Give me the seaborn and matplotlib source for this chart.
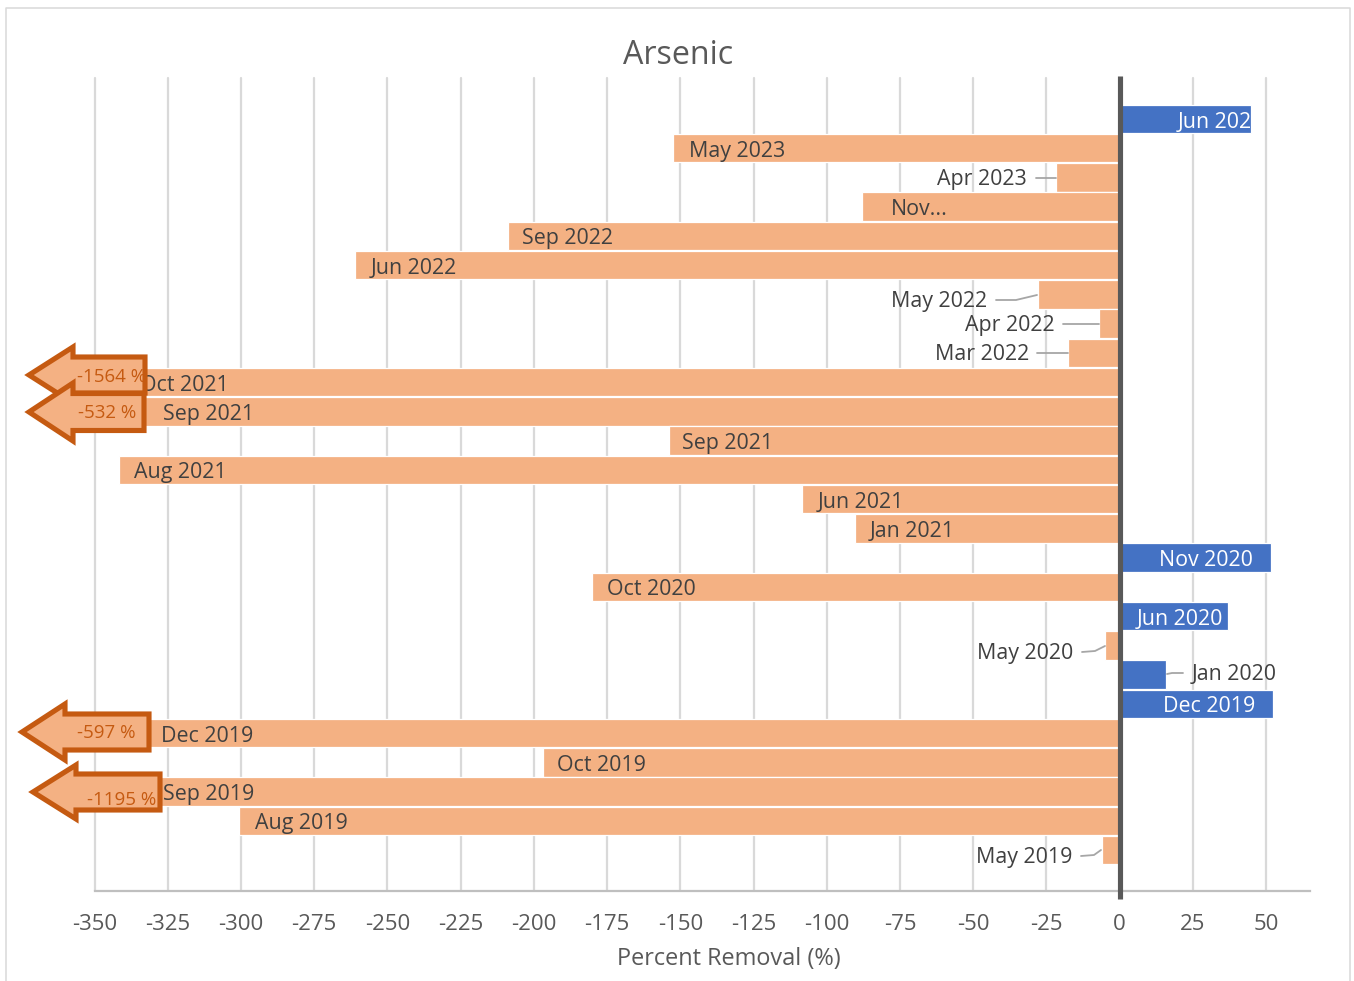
import matplotlib
matplotlib.use("Agg")
import matplotlib.pyplot as plt
import seaborn as sns
import pandas as pd
from matplotlib.patches import Polygon, Rectangle
from matplotlib.transforms import Affine2D

months = ["Jun 2023", "May 2023", "Apr 2023", "Nov...", "Sep 2022", "Jun 2022", "May 2022",
          "Apr 2022", "Mar 2022", "Oct 2021", "Sep 2021", "Sep 2021", "Aug 2021", "Jun 2021",
          "Jan 2021", "Nov 2020", "Oct 2020", "Jun 2020", "May 2020", "Jan 2020", "Dec 2019",
          "Dec 2019", "Oct 2019", "Sep 2019", "Aug 2019", "May 2019"]
removal = [44.9, -152.4, -21.7, -88, -208.7, -261, -28, -7, -17.6, -1564, -532, -154, -341.5,
           -108.4, -90.3, 51.7, -180, 37, -5, 16, 52.4, -597, -196.8, -1195, -300.5, -6]
ticks = list(range(-350, 51, 25))

WIDTH, HEIGHT = 1354, 981
ORANGE, BLUE, BURNT = "#F4B183", "#4472C4", "#C55A11"
DARK, MID, GRID = "#404040", "#595959", "#D9D9D9"
FONT = "Open Sans"
LABEL_SIZE = 15.4
TEXT_DROP = 3  # pixels, settles the labels on the bar centres

sns.set_theme(style="white")
plt.rcParams["font.family"] = [FONT, "DejaVu Sans"]

fig = plt.figure(figsize=(WIDTH / 100, HEIGHT / 100), dpi=100)
ax = fig.add_axes([94.5 / WIDTH, 1 - 891 / HEIGHT, (1310 - 94.5) / WIDTH, (891 - 78) / HEIGHT])

# Page-pixel coordinates for annotation shapes and the chart frame
page = Affine2D().scale(1, -1).translate(0, HEIGHT)

df = pd.DataFrame({"row": range(len(months)), "month": months, "removal": removal})
df["direction"] = ["up" if v > 0 else "down" for v in removal]
sns.barplot(data=df, x="removal", y="row", hue="direction", orient="y", native_scale=True,
            palette={"up": BLUE, "down": ORANGE}, dodge=False, width=0.97, legend=False,
            edgecolor="white", linewidth=0.9, saturation=1, ax=ax, zorder=2)

ax.set_xlim(-350, 65)
ax.set_ylim(26.4, -1.4)
ax.set_xlabel("")
ax.set_ylabel("")
ax.set_yticks([])
ax.set_xticks(ticks)
ax.set_xticklabels([str(t) for t in ticks], fontsize=16, color=MID)
ax.tick_params(axis="x", length=0, pad=16.5)
ax.set_axisbelow(True)
ax.grid(axis="x", color=GRID, lw=1.6, clip_on=False)
ax.grid(axis="y", visible=False)
for side in ("top", "left", "right"):
    ax.spines[side].set_visible(False)
ax.spines["bottom"].set_color("#BFBFBF")
ax.spines["bottom"].set_linewidth(1.6)

# Heavy zero baseline, running just past the plot area
ax.axvline(0, ymin=-0.01, ymax=1.003, color=MID, lw=3.7, clip_on=False, zorder=4,
           solid_capstyle="butt")

fig.text(678 / WIDTH, 1 - 55 / HEIGHT, "Arsenic", ha="center", va="center", fontsize=23.2, color=MID)
fig.text(729 / WIDTH, 1 - 959 / HEIGHT, "Percent Removal (%)", ha="center", va="center",
         fontsize=16.9, color=MID)

# Labels inside the bars: row -> page x of the label's anchor
inside_left = {1: 689, 3: 891, 4: 522, 5: 371, 9: 140, 10: 163, 11: 682, 12: 134, 13: 818,
               14: 870, 16: 607, 21: 161, 22: 557, 23: 163, 24: 255}
inside_right = {15: 1253, 17: 1223, 20: 1255}
for row, x in inside_left.items():
    ax.text(x, 119 + 29.24 * row + TEXT_DROP, months[row], transform=page, ha="left", va="center",
            fontsize=LABEL_SIZE, color=DARK, zorder=5)
for row, x in inside_right.items():
    ax.text(x, 119 + 29.24 * row + TEXT_DROP, months[row], transform=page, ha="right", va="center",
            fontsize=LABEL_SIZE, color="white", zorder=5)

# The newest label runs past the end of its bar and is cut off there
top_label = ax.text(1178, 119 + TEXT_DROP, months[0], transform=page, ha="left", va="center",
                    fontsize=LABEL_SIZE, color="white", zorder=5)
top_label.set_clip_path(Rectangle((1122, 105), 128, 28, transform=page))

# Labels outside short bars, tied back with thin leader lines
outside = [
    (2, 1027, 177, [(1036, 178), (1056, 178)]),
    (6, 987, 299, [(996, 300), (1016, 300), (1037, 295)]),
    (7, 1055, 323, [(1063, 324), (1099, 324)]),
    (8, 1029, 352, [(1037, 353), (1068, 353)]),
    (18, 1073, 650, [(1082, 652), (1095, 651), (1105, 646)]),
    (25, 1072, 855, [(1081, 856), (1094, 855), (1101, 850)]),
]
for row, x, y, path in outside:
    ax.text(x, y + TEXT_DROP, months[row], transform=page, ha="right", va="center",
            fontsize=LABEL_SIZE, color=DARK, zorder=5)
    ax.plot(*zip(*path), transform=page, color="#A6A6A6", lw=1.3, clip_on=False, zorder=5)
ax.text(1192, 672 + TEXT_DROP, months[19], transform=page, ha="left", va="center",
        fontsize=LABEL_SIZE, color=DARK, zorder=5)
ax.plot([1167, 1172, 1183], [674, 673, 673], transform=page, color="#A6A6A6", lw=1.3,
        clip_on=False, zorder=5)

# Callout arrows for bars far beyond the axis range: (tip, neck, right, centre, half body, half head)
callouts = [
    (29, 73, 145, 375, 18, 28, "-1564 %", 112, 377),
    (29, 73, 144, 412, 18.5, 29, "-532 %", 107, 413),
    (22, 65, 149, 732, 18, 28, "-597 %", 106, 733),
    (33, 76, 160, 792, 18, 27, "-1195 %", 122, 800),
]
for tip, neck, right, mid, body, head, text, tx, ty in callouts:
    outline = [(tip, mid), (neck, mid - head), (neck, mid - body), (right, mid - body),
               (right, mid + body), (neck, mid + body), (neck, mid + head)]
    ax.add_patch(Polygon(outline, closed=True, transform=page, fc=ORANGE, ec=BURNT, lw=3.7,
                         joinstyle="miter", clip_on=False, zorder=6))
    ax.text(tx, ty, text, transform=page, ha="center", va="center", fontsize=13.5, color=BURNT,
            clip_on=False, zorder=7)

# Thin frame around the chart, open along the bottom
fig.add_artist(plt.Line2D([6, 6, 1350, 1350], [HEIGHT, 8, 8, HEIGHT], transform=page,
                          color=GRID, lw=1.1))

fig.savefig("out.png", dpi=100, facecolor="white")
